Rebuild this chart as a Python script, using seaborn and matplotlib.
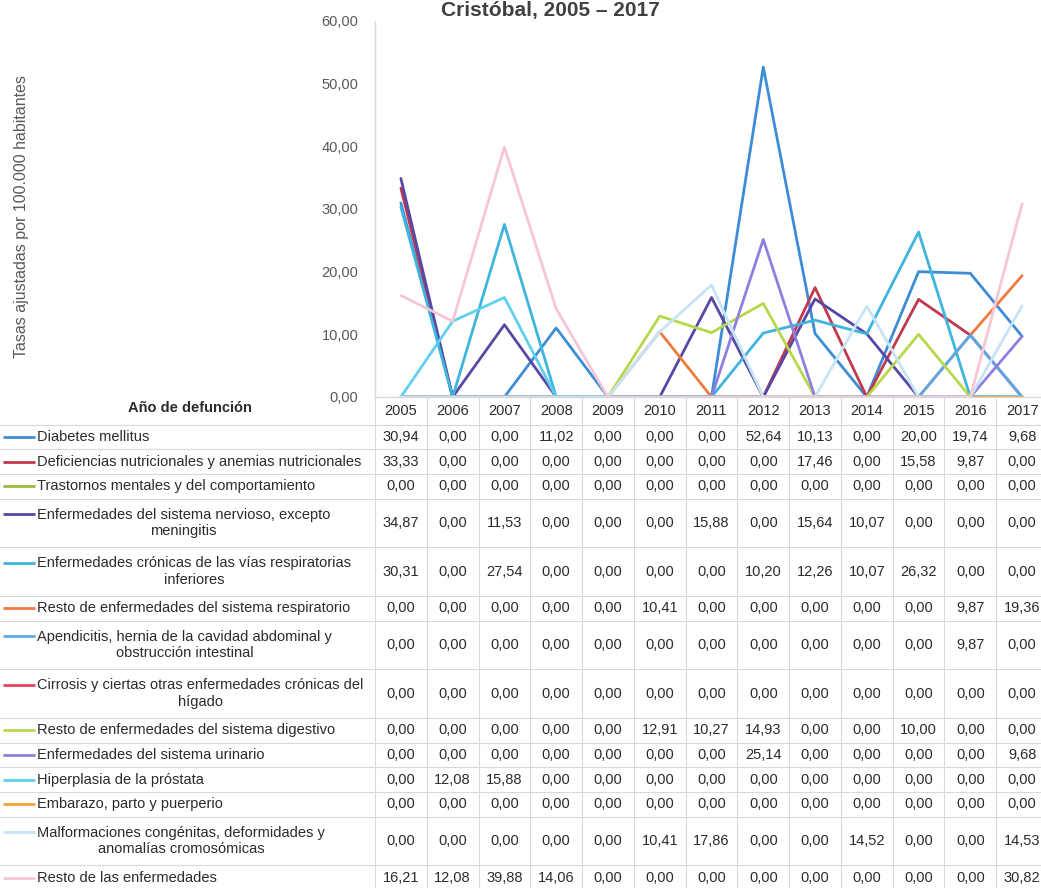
import numpy as np
import pandas as pd
import seaborn as sns
import matplotlib
matplotlib.use('Agg')
import matplotlib.pyplot as plt
from matplotlib.transforms import blended_transform_factory

# Datos: tasas ajustadas por 100.000 habitantes
years = [2005, 2006, 2007, 2008, 2009, 2010, 2011, 2012, 2013, 2014, 2015, 2016, 2017]

causes = [
    'Diabetes mellitus',
    'Deficiencias nutricionales y anemias nutricionales',
    'Trastornos mentales y del comportamiento',
    'Enfermedades del sistema nervioso, excepto\nmeningitis',
    'Enfermedades crónicas de las vías respiratorias\ninferiores',
    'Resto de enfermedades del sistema respiratorio',
    'Apendicitis, hernia de la cavidad abdominal y\nobstrucción intestinal',
    'Cirrosis y ciertas otras enfermedades crónicas del\nhígado',
    'Resto de enfermedades del sistema digestivo',
    'Enfermedades del sistema urinario',
    'Hiperplasia de la próstata',
    'Embarazo, parto y puerperio',
    'Malformaciones congénitas, deformidades y\nanomalías cromosómicas',
    'Resto de las enfermedades',
]

diabetes = [30.94, 0.00, 0.00, 11.02, 0.00, 0.00, 0.00, 52.64, 10.13, 0.00, 20.00, 19.74, 9.68]
deficiencias = [33.33, 0.00, 0.00, 0.00, 0.00, 0.00, 0.00, 0.00, 17.46, 0.00, 15.58, 9.87, 0.00]
trastornos = [0.00, 0.00, 0.00, 0.00, 0.00, 0.00, 0.00, 0.00, 0.00, 0.00, 0.00, 0.00, 0.00]
nervioso = [34.87, 0.00, 11.53, 0.00, 0.00, 0.00, 15.88, 0.00, 15.64, 10.07, 0.00, 0.00, 0.00]
cronicas_resp = [30.31, 0.00, 27.54, 0.00, 0.00, 0.00, 0.00, 10.20, 12.26, 10.07, 26.32, 0.00, 0.00]
resto_resp = [0.00, 0.00, 0.00, 0.00, 0.00, 10.41, 0.00, 0.00, 0.00, 0.00, 0.00, 9.87, 19.36]
apendicitis = [0.00, 0.00, 0.00, 0.00, 0.00, 0.00, 0.00, 0.00, 0.00, 0.00, 0.00, 9.87, 0.00]
cirrosis = [0.00, 0.00, 0.00, 0.00, 0.00, 0.00, 0.00, 0.00, 0.00, 0.00, 0.00, 0.00, 0.00]
resto_digestivo = [0.00, 0.00, 0.00, 0.00, 0.00, 12.91, 10.27, 14.93, 0.00, 0.00, 10.00, 0.00, 0.00]
urinario = [0.00, 0.00, 0.00, 0.00, 0.00, 0.00, 0.00, 25.14, 0.00, 0.00, 0.00, 0.00, 9.68]
hiperplasia = [0.00, 12.08, 15.88, 0.00, 0.00, 0.00, 0.00, 0.00, 0.00, 0.00, 0.00, 0.00, 0.00]
embarazo = [0.00, 0.00, 0.00, 0.00, 0.00, 0.00, 0.00, 0.00, 0.00, 0.00, 0.00, 0.00, 0.00]
malformaciones = [0.00, 0.00, 0.00, 0.00, 0.00, 10.41, 17.86, 0.00, 0.00, 14.52, 0.00, 0.00, 14.53]
resto = [16.21, 12.08, 39.88, 14.06, 0.00, 0.00, 0.00, 0.00, 0.00, 0.00, 0.00, 0.00, 30.82]

series = [diabetes, deficiencias, trastornos, nervioso, cronicas_resp, resto_resp, apendicitis,
          cirrosis, resto_digestivo, urinario, hiperplasia, embarazo, malformaciones, resto]

colors = ['#3c8dd5', '#c0394f', '#9bbb3b', '#5847a5', '#3db5dc', '#f07b3f', '#5ba8ea',
          '#e04560', '#b7d84b', '#8e7fe0', '#5fd0f0', '#f6a03c', '#c6e4f5', '#f6c6d2']

long_df = pd.DataFrame({
    'year': years * len(causes),
    'tasa': [v for s in series for v in s],
    'causa': [c for c in causes for _ in years],
})

sns.set_style('white')
plt.rcParams['font.family'] = ['Liberation Sans', 'DejaVu Sans']

W, H = 1041, 888
fig = plt.figure(figsize=(W / 100, H / 100), dpi=100)

# Chart area
ax = fig.add_axes([375 / W, 1 - 397 / H, 673 / W, (397 - 21) / H])
sns.lineplot(data=long_df, x='year', y='tasa', hue='causa', hue_order=causes,
             palette=dict(zip(causes, colors)), linewidth=2.0, legend=False,
             ax=ax, sort=False)
ax.set_xlim(2004.5, 2017.5)
ax.set_ylim(0, 60)
ax.set_yticks(np.arange(0, 61, 10))
ax.set_yticklabels([f'{v:.2f}'.replace('.', ',') for v in np.arange(0, 61, 10)],
                   fontsize=10.5, color='#595959')
ax.tick_params(axis='y', length=0, pad=12)
ax.set_xticks([])
ax.set_xlabel('')
ax.set_ylabel('')
for side in ['top', 'right']:
    ax.spines[side].set_visible(False)
for side in ['left', 'bottom']:
    ax.spines[side].set_color('#d9d9d9')
    ax.spines[side].set_linewidth(1.0)

fig.text(550 / W, 1 - 16 / H, 'Cristóbal, 2005 – 2017', ha='center', va='baseline',
         fontsize=15, fontweight='bold', color='#404040')
fig.text(22 / W, 1 - 217 / H, 'Tasas ajustadas por 100.000 habitantes', rotation=90,
         ha='center', va='center', fontsize=11.5, color='#595959')

# Data table below the chart
tab = fig.add_axes([0, 0, 1, 1], zorder=-1)
tab.set_xlim(0, W)
tab.set_ylim(H, 0)
tab.axis('off')
tr = blended_transform_factory(ax.transData, tab.transData)

grid_c = '#d9d9d9'
txt_c = '#2b2b2b'
h1, h2 = 24.7, 48.6
y_top = 397
y_head = 424.6

tab.text(190, 408, 'Año de defunción', ha='center', va='center', fontsize=10.5,
         fontweight='bold', color=txt_c)
for yr in years:
    tab.text(yr, 411, str(yr), transform=tr, ha='center', va='center',
             fontsize=10.5, color=txt_c)

y = y_head
tab.plot([0, W], [y, y], color=grid_c, lw=0.8)
for cause, vals, col in zip(causes, series, colors):
    n = cause.count('\n') + 1
    h = h1 if n == 1 else h2
    yc = y + h / 2
    key_y = yc - 8.8 * (n - 1)
    tab.plot([3, 35], [key_y, key_y], color=col, lw=2.0, solid_capstyle='butt')
    tab.text(37, yc, cause, ha='left', va='center', multialignment='center',
             fontsize=10.5, color=txt_c, linespacing=1.25)
    for yr, v in zip(years, vals):
        tab.text(yr, yc, f'{v:.2f}'.replace('.', ','), transform=tr, ha='center',
                 va='center', fontsize=10.5, color=txt_c)
    y += h
    tab.plot([0, W], [y, y], color=grid_c, lw=0.8)

for b in np.arange(2004.5, 2018, 1.0):
    tab.plot([b, b], [y_top, H], transform=tr, color=grid_c, lw=0.8)

fig.savefig('out.png', dpi=100)
